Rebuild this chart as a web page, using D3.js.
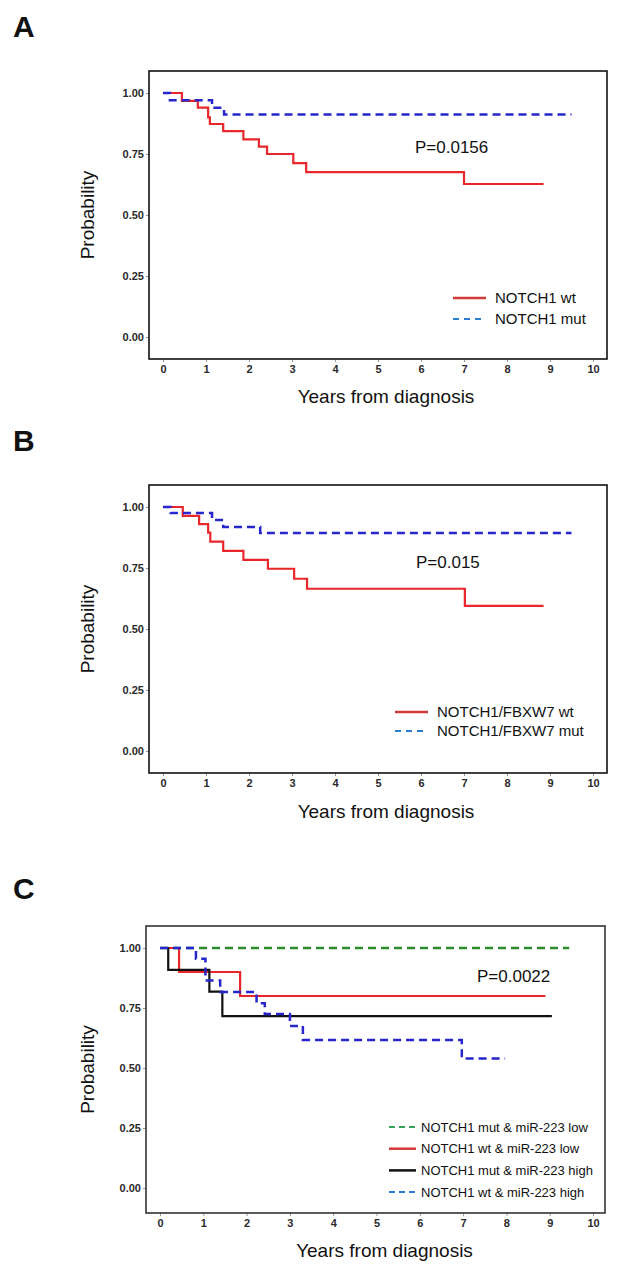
<!DOCTYPE html>
<html>
<head>
<meta charset="utf-8">
<script src="https://cdn.jsdelivr.net/npm/d3@7"></script>
<style>
  html, body { margin: 0; padding: 0; background: #fff; }
  svg { display: block; }
</style>
</head>
<body>
<svg id="chart" width="621" height="1275"></svg>
<script>
// ---------------- DATA ----------------
const yearTicks = [0, 1, 2, 3, 4, 5, 6, 7, 8, 9, 10];
const probTicks = [0, 0.25, 0.5, 0.75, 1.0];
const probTickLabels = ["0.00", "0.25", "0.50", "0.75", "1.00"];

// Panel A
const aWtTimes = [0, 0.44, 0.81, 1.05, 1.09, 1.40, 1.87, 2.23, 2.42, 3.03, 3.33, 7.00, 8.85];
const aWtSurv  = [1, 0.968, 0.940, 0.900, 0.873, 0.844, 0.810, 0.780, 0.750, 0.713, 0.676, 0.627, 0.627];
const aMutTimes = [0, 0.16, 1.14, 1.42, 9.50];
const aMutSurv  = [1, 0.970, 0.940, 0.912, 0.912];
const aLegend = ["NOTCH1 wt", "NOTCH1 mut"];
const aPValue = "P=0.0156";

// Panel B
const bWtTimes = [0, 0.46, 0.84, 1.05, 1.10, 1.40, 1.87, 2.44, 3.05, 3.35, 7.02, 8.85];
const bWtSurv  = [1, 0.964, 0.930, 0.895, 0.858, 0.820, 0.783, 0.747, 0.706, 0.665, 0.595, 0.595];
const bMutTimes = [0, 0.18, 1.14, 1.40, 2.26, 9.50];
const bMutSurv  = [1, 0.975, 0.947, 0.918, 0.893, 0.893];
const bLegend = ["NOTCH1/FBXW7 wt", "NOTCH1/FBXW7 mut"];
const bPValue = "P=0.015";

// Panel C
const cMutLowTimes = [0, 9.45];
const cMutLowSurv  = [1, 1];
const cWtLowTimes = [0, 0.44, 1.85, 8.90];
const cWtLowSurv  = [1, 0.900, 0.800, 0.800];
const cMutHighTimes = [0, 0.19, 1.14, 1.44, 9.05];
const cMutHighSurv  = [1, 0.909, 0.818, 0.716, 0.716];
const cWtHighTimes = [0, 0.83, 1.05, 1.39, 2.23, 2.42, 3.00, 3.30, 6.97, 7.97];
const cWtHighSurv  = [1, 0.955, 0.865, 0.817, 0.770, 0.725, 0.675, 0.617, 0.540, 0.540];
const cLegend = ["NOTCH1 mut & miR-223 low", "NOTCH1 wt & miR-223 low", "NOTCH1 mut & miR-223 high", "NOTCH1 wt & miR-223 high"];
const cPValue = "P=0.0022";

const panelLetters = ["A", "B", "C"];

// ---------------- STYLE ----------------
const RED = "#e8262b", BLUE = "#2626cc", BLACK = "#111", GREEN = "#2a8c2a";
const LEG_RED = "#d23a3a", LEG_BLUE = "#2b7dd0", LEG_GREEN = "#35a05a", LEG_BLACK = "#111";
const DASH = "8,5";

const svg = d3.select("#chart");
const font = "'Liberation Sans', Arial, sans-serif";

function zip(t, s) { return t.map((d, i) => ({ t: d, s: s[i] })); }

function drawPanel(cfg) {
  const x = d3.scaleLinear().domain([0, 10]).range([cfg.x0, cfg.x10]);
  const y = d3.scaleLinear().domain([0, 1]).range([cfg.yZero, cfg.yOne]);
  const g = svg.append("g");

  g.append("text").attr("x", 13).attr("y", cfg.letterY)
    .attr("font-family", font).attr("font-weight", "bold").attr("font-size", 30)
    .attr("fill", "#111").text(cfg.letter);

  const yAxis = d3.axisLeft(y).tickValues(probTicks)
    .tickFormat((d, i) => probTickLabels[i]).tickSize(3).tickPadding(2);
  const ya = g.append("g").attr("transform", `translate(${cfg.left},0)`).call(yAxis);
  ya.select(".domain").remove();
  ya.selectAll(".tick line").attr("stroke", "#999");
  ya.selectAll("text").attr("font-family", font).attr("font-weight", "bold")
    .attr("font-size", 11).attr("fill", "#2a2a2a");

  const xAxis = d3.axisBottom(x).tickValues(yearTicks).tickFormat(d3.format("d"))
    .tickSize(3).tickPadding(3);
  const xa = g.append("g").attr("transform", `translate(0,${cfg.bottom})`).call(xAxis);
  xa.select(".domain").remove();
  xa.selectAll(".tick line").attr("stroke", "#999");
  xa.selectAll("text").attr("font-family", font).attr("font-weight", "bold")
    .attr("font-size", 11).attr("fill", "#2a2a2a");

  g.append("rect").attr("x", cfg.left).attr("y", cfg.top)
    .attr("width", cfg.right - cfg.left).attr("height", cfg.bottom - cfg.top)
    .attr("fill", "none").attr("stroke", cfg.frameColor || "#111").attr("stroke-width", 1.6);

  g.append("text")
    .attr("transform", `translate(${cfg.yTitleX},${(cfg.top + cfg.bottom) / 2}) rotate(-90)`)
    .attr("text-anchor", "middle").attr("font-family", font).attr("font-size", 19)
    .attr("fill", "#111").text("Probability");
  g.append("text").attr("x", (cfg.x0 + cfg.x10) / 2 + 8).attr("y", cfg.xTitleY)
    .attr("text-anchor", "middle").attr("font-family", font).attr("font-size", 19)
    .attr("fill", "#111").text("Years from diagnosis");

  const line = d3.line().x(d => x(d.t)).y(d => y(d.s)).curve(d3.curveStepAfter);
  cfg.series.forEach(s => {
    g.append("path").datum(zip(s.times, s.surv))
      .attr("d", line).attr("fill", "none")
      .attr("stroke", s.color).attr("stroke-width", s.width)
      .attr("stroke-dasharray", s.dash || null)
      .attr("stroke-linejoin", "miter").attr("stroke-linecap", "butt");
  });

  g.append("text").attr("x", cfg.pX).attr("y", cfg.pY)
    .attr("font-family", font).attr("font-size", 17).attr("fill", "#111").text(cfg.pText);

  cfg.legend.forEach((L, i) => {
    const ly = cfg.legY + i * cfg.legStep;
    g.append("line").attr("x1", cfg.legX1).attr("x2", cfg.legX2)
      .attr("y1", ly).attr("y2", ly)
      .attr("stroke", L.color).attr("stroke-width", L.dash ? 2 : 2.5)
      .attr("stroke-dasharray", L.dash || null);
    g.append("text").attr("x", cfg.legTextX).attr("y", ly)
      .attr("dy", "0.35em").attr("font-family", font).attr("font-size", cfg.legFont)
      .attr("fill", "#111").text(L.label);
  });
}

drawPanel({
  letter: panelLetters[0], letterY: 37,
  left: 149, right: 607, top: 71, bottom: 359,
  x0: 163, x10: 593, yZero: 337, yOne: 93,
  yTitleX: 94, xTitleY: 403,
  series: [
    { times: aWtTimes, surv: aWtSurv, color: RED, width: 2.2 },
    { times: aMutTimes, surv: aMutSurv, color: BLUE, width: 2.5, dash: DASH }
  ],
  pText: aPValue, pX: 415, pY: 153,
  legend: [
    { label: aLegend[0], color: LEG_RED },
    { label: aLegend[1], color: LEG_BLUE, dash: "6,5" }
  ],
  legX1: 453, legX2: 486, legTextX: 495, legY: 298, legStep: 21, legFont: 15
});

drawPanel({
  letter: panelLetters[1], letterY: 451,
  left: 149, right: 607, top: 485, bottom: 773,
  x0: 163, x10: 593, yZero: 751, yOne: 507,
  yTitleX: 94, xTitleY: 818,
  series: [
    { times: bWtTimes, surv: bWtSurv, color: RED, width: 2.2 },
    { times: bMutTimes, surv: bMutSurv, color: BLUE, width: 2.5, dash: DASH }
  ],
  pText: bPValue, pX: 416, pY: 568,
  legend: [
    { label: bLegend[0], color: LEG_RED },
    { label: bLegend[1], color: LEG_BLUE, dash: "6,5" }
  ],
  legX1: 395, legX2: 428, legTextX: 437, legY: 712, legStep: 19, legFont: 15
});

drawPanel({
  letter: panelLetters[2], letterY: 899, frameColor: "#333",
  left: 146, right: 605, top: 926, bottom: 1213,
  x0: 160, x10: 593, yZero: 1188, yOne: 948,
  yTitleX: 94, xTitleY: 1257,
  series: [
    { times: cMutLowTimes, surv: cMutLowSurv, color: GREEN, width: 2.5, dash: DASH },
    { times: cWtLowTimes, surv: cWtLowSurv, color: RED, width: 2.2 },
    { times: cMutHighTimes, surv: cMutHighSurv, color: BLACK, width: 2.2 },
    { times: cWtHighTimes, surv: cWtHighSurv, color: BLUE, width: 2.5, dash: DASH }
  ],
  pText: cPValue, pX: 477, pY: 982,
  legend: [
    { label: cLegend[0], color: LEG_GREEN, dash: "6,4" },
    { label: cLegend[1], color: LEG_RED },
    { label: cLegend[2], color: LEG_BLACK },
    { label: cLegend[3], color: LEG_BLUE, dash: "6,4" }
  ],
  legX1: 389, legX2: 416, legTextX: 421, legY: 1127, legStep: 21.7, legFont: 13
});
</script>
</body>
</html>
